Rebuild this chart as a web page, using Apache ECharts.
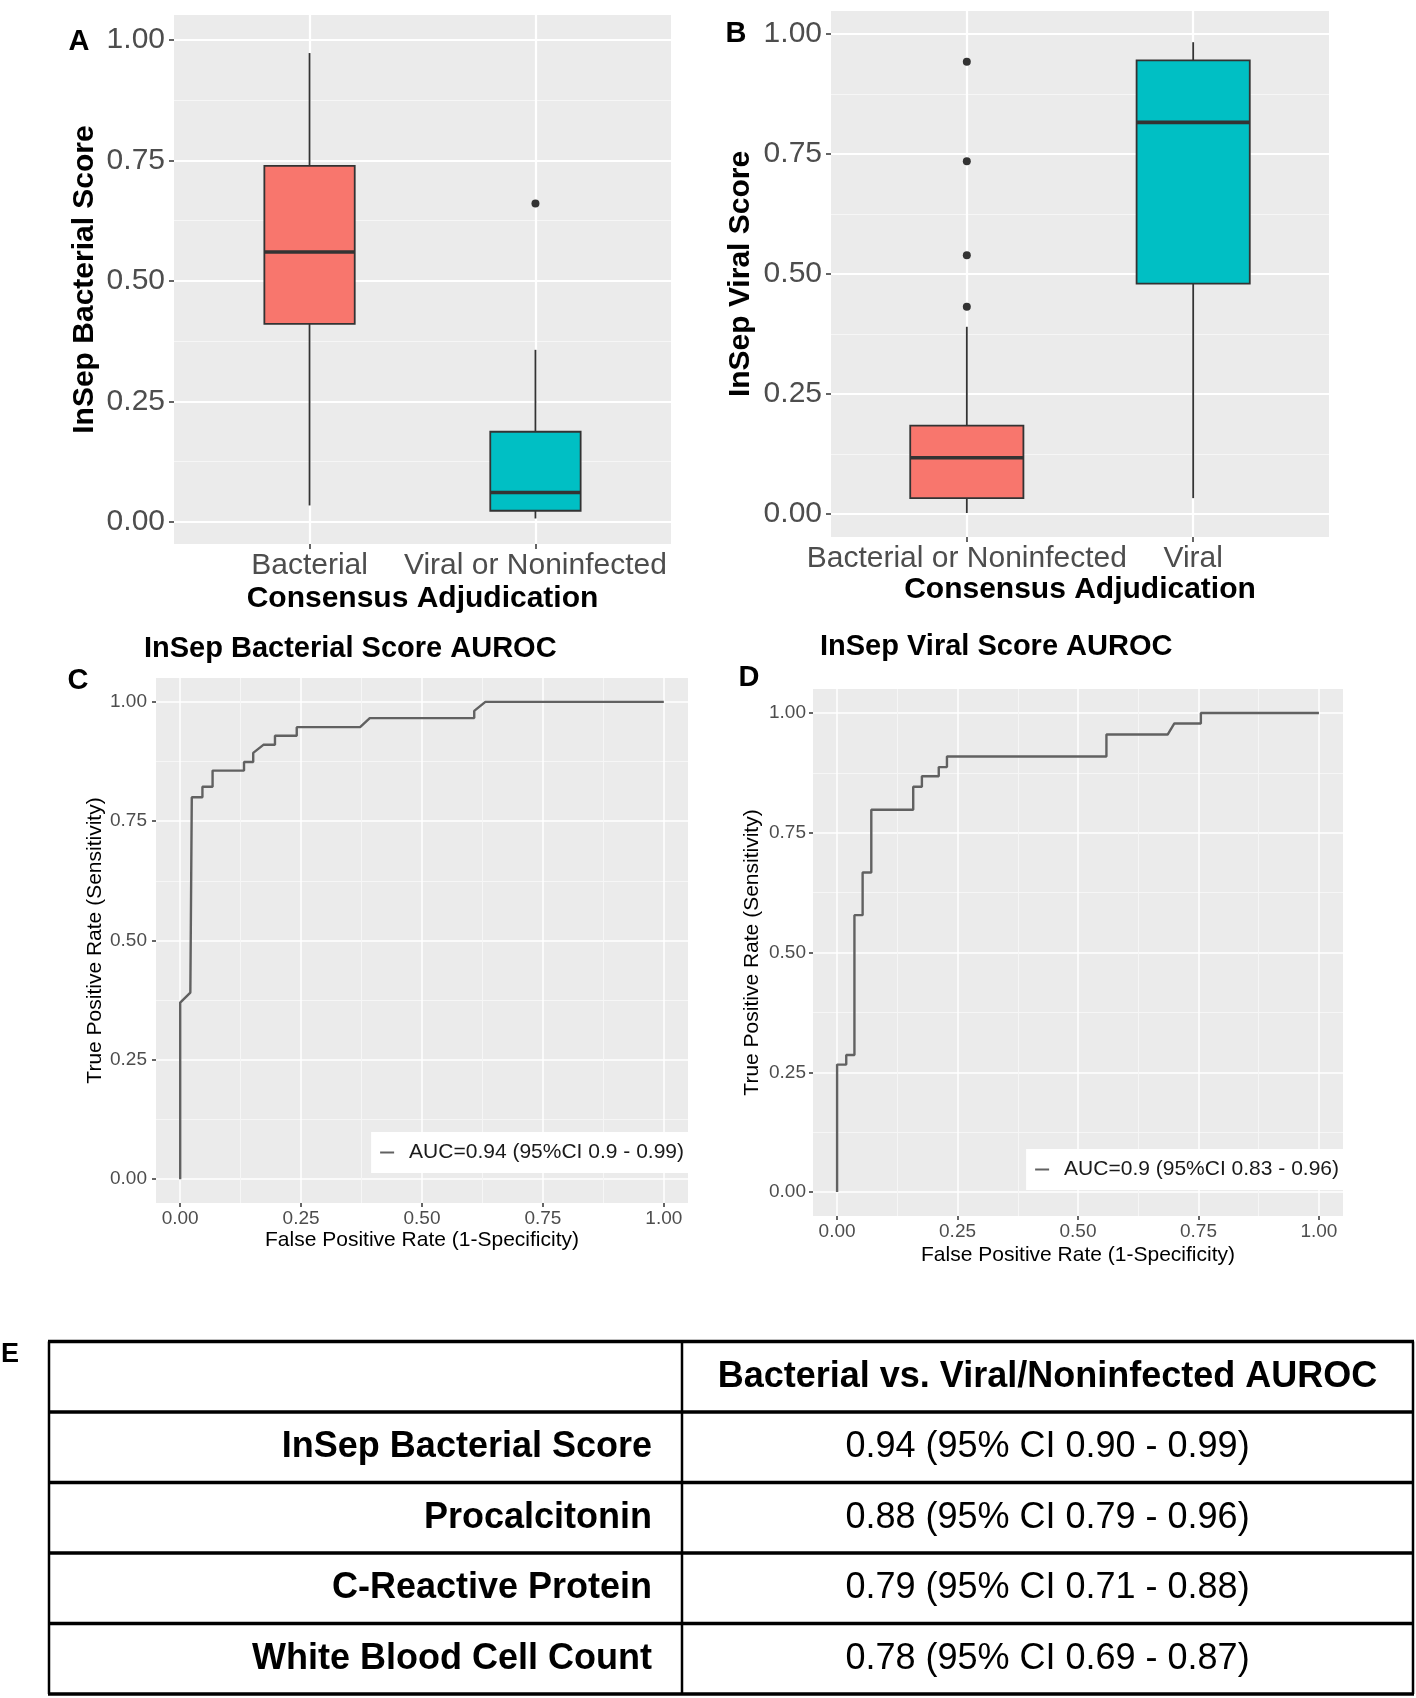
<!DOCTYPE html>
<html>
<head>
<meta charset="utf-8">
<script src="https://cdn.jsdelivr.net/npm/echarts@6.0.0/dist/echarts.min.js"></script>
<style>
  html, body { margin: 0; padding: 0; background: #fff; }
  #main { width: 1416px; height: 1698px; }
</style>
</head>
<body>
<div id="main"></div>
<script>
// ---- data ----
// A: InSep Bacterial Score by adjudication (min, Q1, median, Q3, max)
const catsA = ['Bacterial', 'Viral or Noninfected'];
const boxA = [
  [0.034, 0.411, 0.560, 0.739, 0.973],
  [0.007, 0.023, 0.061, 0.187, 0.357]
];
const outliersA = [[2, 0.661]];

// B: InSep Viral Score by adjudication
const catsB = ['Bacterial or Noninfected', 'Viral'];
const boxB = [
  [0.002, 0.033, 0.117, 0.184, 0.390],
  [0.033, 0.480, 0.816, 0.945, 0.983]
];
const outliersB = [[1, 0.432], [1, 0.539], [1, 0.735], [1, 0.942]];
const boxColors = ['#F8766D', '#00BFC4'];

// C: bacterial score ROC curve
const aucC = 'AUC=0.94 (95%CI 0.9 - 0.99)';
const rocC_fpr = [0, 0, 0.021, 0.024, 0.046, 0.046, 0.067, 0.067, 0.132, 0.132, 0.151, 0.151, 0.172, 0.196, 0.196, 0.241, 0.241, 0.372, 0.392, 0.608, 0.608, 0.631, 1];
const rocC_tpr = [0, 0.370, 0.391, 0.800, 0.800, 0.822, 0.822, 0.856, 0.856, 0.874, 0.874, 0.893, 0.910, 0.910, 0.929, 0.929, 0.947, 0.947, 0.966, 0.966, 0.981, 1, 1];

// D: viral score ROC curve
const aucD = 'AUC=0.9 (95%CI 0.83 - 0.96)';
const rocD_fpr = [0, 0, 0.019, 0.019, 0.036, 0.036, 0.053, 0.053, 0.071, 0.071, 0.158, 0.158, 0.176, 0.176, 0.211, 0.211, 0.228, 0.228, 0.559, 0.559, 0.686, 0.700, 0.755, 0.755, 1];
const rocD_tpr = [0, 0.266, 0.266, 0.286, 0.286, 0.578, 0.578, 0.667, 0.667, 0.798, 0.798, 0.846, 0.846, 0.868, 0.868, 0.887, 0.887, 0.909, 0.909, 0.955, 0.955, 0.978, 0.978, 1, 1];

const majorTicks = [0, 0.25, 0.5, 0.75, 1];
const minorTicks = [0.125, 0.375, 0.625, 0.875];

// E: table
const tableHeader = 'Bacterial vs. Viral/Noninfected AUROC';
const tableRows = ['InSep Bacterial Score', 'Procalcitonin', 'C-Reactive Protein', 'White Blood Cell Count'];
const tableValues = ['0.94 (95% CI 0.90 - 0.99)', '0.88 (95% CI 0.79 - 0.96)', '0.79 (95% CI 0.71 - 0.88)', '0.78 (95% CI 0.69 - 0.87)'];

// ---- layout ----
const FONT = '"Liberation Sans", Arial, sans-serif';
const W = 1416;
const grids = [
  { left: 174, top: 15, width: 497, height: 529 },   // A
  { left: 831, top: 11, width: 498, height: 526 },   // B
  { left: 156, top: 678, width: 532, height: 525 },  // C
  { left: 813, top: 689, width: 530, height: 527 }   // D
];

function axis(gridIndex, min, max, ticks, o) {
  return {
    type: 'value', gridIndex, min, max,
    axisLine: { show: false, onZero: false },
    axisTick: { show: !!o.label, customValues: ticks, length: o.tickLen || 5, lineStyle: { color: '#333', width: o.tickW || 1.5 } },
    axisLabel: {
      show: !!o.label, customValues: ticks, margin: o.margin || 6,
      fontSize: o.fontSize || 19, color: '#4D4D4D', fontFamily: FONT,
      formatter: o.formatter || (v => v.toFixed(2))
    },
    splitLine: { show: true, lineStyle: { color: o.gridColor || '#fff', width: o.gridW || 1.5 } }
  };
}

const xAxis = [
  axis(0, 0.4, 2.6, [1, 2], { label: true, fontSize: 30, margin: 7, gridW: 2.2, formatter: v => catsA[Math.round(v) - 1] }),
  axis(1, 0.4, 2.6, [1, 2], { label: true, fontSize: 30, margin: 7, gridW: 2.2, formatter: v => catsB[Math.round(v) - 1] }),
  axis(2, -0.05, 1.05, majorTicks, { label: true, tickLen: 4, margin: 6 }),
  axis(2, -0.05, 1.05, minorTicks, { gridColor: '#F6F6F6', gridW: 1 }),
  axis(3, -0.05, 1.05, majorTicks, { label: true, tickLen: 4, margin: 6 }),
  axis(3, -0.05, 1.05, minorTicks, { gridColor: '#F6F6F6', gridW: 1 })
];
const yAxis = [
  axis(0, -0.046, 1.052, majorTicks, { label: true, fontSize: 30, margin: 9, gridW: 2.2 }),
  axis(0, -0.046, 1.052, minorTicks, { gridColor: '#F6F6F6', gridW: 1.1 }),
  axis(1, -0.048, 1.048, majorTicks, { label: true, fontSize: 30, margin: 9, gridW: 2.2 }),
  axis(1, -0.048, 1.048, minorTicks, { gridColor: '#F6F6F6', gridW: 1.1 }),
  axis(2, -0.05, 1.05, majorTicks, { label: true, tickLen: 4, margin: 9 }),
  axis(2, -0.05, 1.05, minorTicks, { gridColor: '#F6F6F6', gridW: 1 }),
  axis(3, -0.05, 1.05, majorTicks, { label: true, tickLen: 4, margin: 7 }),
  axis(3, -0.05, 1.05, minorTicks, { gridColor: '#F6F6F6', gridW: 1 })
];

// ggplot-like box: no whisker caps, thick median
function boxRenderer(boxWidth) {
  return function (params, api) {
    const x = api.value(0);
    const lo = api.coord([x, api.value(1)]);
    const q1 = api.coord([x, api.value(2)]);
    const med = api.coord([x, api.value(3)]);
    const q3 = api.coord([x, api.value(4)]);
    const hi = api.coord([x, api.value(5)]);
    const left = api.coord([x - boxWidth / 2, 0])[0];
    const right = api.coord([x + boxWidth / 2, 0])[0];
    const line = { stroke: '#333', lineWidth: 1.8 };
    return {
      type: 'group',
      children: [
        { type: 'line', shape: { x1: lo[0], y1: lo[1], x2: q1[0], y2: q1[1] }, style: line },
        { type: 'line', shape: { x1: q3[0], y1: q3[1], x2: hi[0], y2: hi[1] }, style: line },
        { type: 'rect', shape: { x: left, y: q3[1], width: right - left, height: q1[1] - q3[1] },
          style: { fill: api.visual('color'), stroke: '#333', lineWidth: 1.8 } },
        { type: 'line', shape: { x1: left, y1: med[1], x2: right, y2: med[1] }, style: { stroke: '#333', lineWidth: 3.6 } }
      ]
    };
  };
}

const boxData = boxes => boxes.map((b, i) => ({ value: [i + 1].concat(b), itemStyle: { color: boxColors[i] } }));
const zip = (xs, ys) => xs.map((x, i) => [x, ys[i]]);

const series = [
  { type: 'custom', xAxisIndex: 0, yAxisIndex: 0, renderItem: boxRenderer(0.4), data: boxData(boxA), encode: { x: 0, y: [1, 2, 3, 4, 5] }, silent: true },
  { type: 'scatter', xAxisIndex: 0, yAxisIndex: 0, data: outliersA, symbolSize: 8, itemStyle: { color: '#333', opacity: 1 }, silent: true },
  { type: 'custom', xAxisIndex: 1, yAxisIndex: 2, renderItem: boxRenderer(0.5), data: boxData(boxB), encode: { x: 0, y: [1, 2, 3, 4, 5] }, silent: true },
  { type: 'scatter', xAxisIndex: 1, yAxisIndex: 2, data: outliersB, symbolSize: 8, itemStyle: { color: '#333', opacity: 1 }, silent: true },
  { type: 'line', name: aucC, xAxisIndex: 2, yAxisIndex: 4, data: zip(rocC_fpr, rocC_tpr), showSymbol: false, symbol: 'none',
    color: '#616161', lineStyle: { color: '#616161', width: 2.4 }, silent: true },
  { type: 'line', name: aucD, xAxisIndex: 4, yAxisIndex: 6, data: zip(rocD_fpr, rocD_tpr), showSymbol: false, symbol: 'none',
    color: '#616161', lineStyle: { color: '#616161', width: 2.4 }, silent: true }
];

function legend(name, right, top) {
  return {
    data: [name], right, top, orient: 'horizontal',
    backgroundColor: '#fff', padding: [10, 4, 10, 9],
    icon: 'rect', itemWidth: 14, itemHeight: 2,
    selectedMode: false,
    textStyle: { fontSize: 21, color: '#1a1a1a', fontFamily: FONT, padding: [0, 0, 0, 10] }
  };
}

// ---- graphic texts and table ----
function txt(text, x, y, size, weight, align, rotation) {
  return {
    type: 'text', x, y, rotation: rotation || 0, silent: true,
    style: { text, fontSize: size, fontWeight: weight, fontFamily: FONT, fill: '#000',
      align: align || 'center', verticalAlign: 'middle' }
  };
}
const R90 = Math.PI / 2;
const graphic = [
  txt('A', 79, 42, 29, 'bold'),
  txt('B', 736, 34, 29, 'bold'),
  txt('C', 78, 681, 29, 'bold'),
  txt('D', 749, 678, 29, 'bold'),
  txt('E', 10, 1355, 27, 'bold'),
  txt('InSep Bacterial Score', 85, 279.5, 30, 'bold', 'center', R90),
  txt('Consensus Adjudication', 422.5, 599, 30, 'bold'),
  txt('InSep Viral Score', 741, 274, 30, 'bold', 'center', R90),
  txt('Consensus Adjudication', 1080, 590, 30, 'bold'),
  txt('InSep Bacterial Score AUROC', 144, 648.5, 29, 'bold', 'left'),
  txt('InSep Viral Score AUROC', 820, 647, 29, 'bold', 'left'),
  txt('True Positive Rate (Sensitivity)', 95, 940.5, 21, 'normal', 'center', R90),
  txt('False Positive Rate (1-Specificity)', 422, 1240, 21, 'normal'),
  txt('True Positive Rate (Sensitivity)', 752.5, 952.5, 21, 'normal', 'center', R90),
  txt('False Positive Rate (1-Specificity)', 1078, 1255, 21, 'normal')
];

const tLeft = 49, tSplit = 682, tRight = 1413, tTop = 1341.5, rowH = 70.5;
const nLines = tableRows.length + 2;
for (let i = 0; i < nLines; i++) {
  const y = tTop + i * rowH;
  graphic.push({ type: 'line', silent: true, shape: { x1: tLeft - 1, y1: y, x2: tRight + 1, y2: y }, style: { stroke: '#000', lineWidth: 3.5 } });
}
[tLeft, tSplit, tRight].forEach(x => {
  graphic.push({ type: 'line', silent: true, shape: { x1: x, y1: tTop, x2: x, y2: tTop + (nLines - 1) * rowH }, style: { stroke: '#000', lineWidth: 2.5 } });
});
const valCenter = (tSplit + tRight) / 2;
graphic.push(txt(tableHeader, valCenter, tTop + rowH / 2, 36, 'bold'));
tableRows.forEach((label, i) => {
  const yc = tTop + rowH * (i + 1) + rowH / 2;
  graphic.push(txt(label, tSplit - 30, yc, 36, 'bold', 'right'));
  graphic.push(txt(tableValues[i], valCenter, yc, 36, 'normal'));
});

const chart = echarts.init(document.getElementById('main'), null, { renderer: 'canvas' });
chart.setOption({
  backgroundColor: '#fff',
  animation: false,
  textStyle: { fontFamily: FONT },
  grid: grids.map(g => Object.assign({ show: true, backgroundColor: '#EBEBEB', borderWidth: 0, outerBoundsMode: 'none' }, g)),
  xAxis,
  yAxis,
  legend: [legend(aucC, W - 688, 1132), legend(aucD, W - 1343, 1149)],
  series,
  graphic
});
</script>
</body>
</html>
